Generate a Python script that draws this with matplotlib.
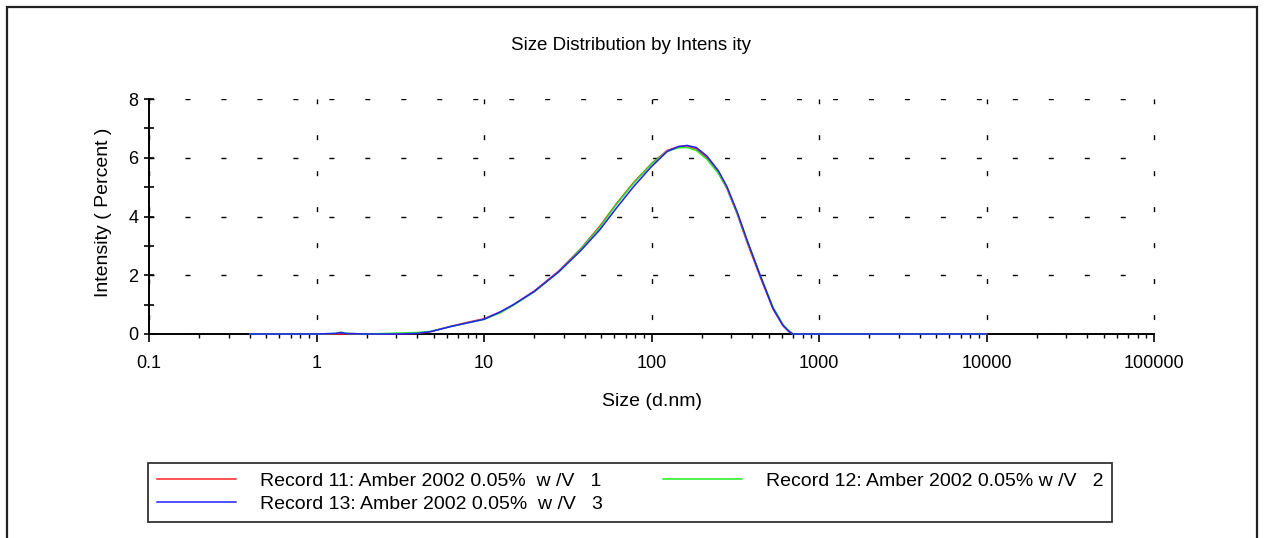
import matplotlib
matplotlib.use("Agg")
import matplotlib.pyplot as plt
import matplotlib.patches as patches
from matplotlib.ticker import FixedLocator, NullFormatter

plt.rcParams['font.family'] = ['Liberation Sans', 'DejaVu Sans']

# size bins (d.nm)
sizes = [0.4, 1.0, 1.3, 1.4, 1.5, 2.0, 3.0, 4.0, 4.8, 6.3, 8.0, 10, 12.5, 15, 20, 28,
         38, 49, 62, 78, 100, 124, 145, 163, 185, 214, 250, 282, 325, 372, 445, 531,
         609, 660, 700, 1000, 10000]

rec11 = [0, 0, 0, 0, 0, 0, 0, 0.02, 0.08, 0.26, 0.40, 0.52, 0.75, 1.0, 1.47, 2.15,
         2.92, 3.66, 4.45, 5.15, 5.80, 6.25, 6.38, 6.40, 6.30, 6.00, 5.50, 4.95, 4.08, 3.12, 1.95, 0.85,
         0.28, 0.08, 0, 0, 0]
rec12 = [0, 0, 0.02, 0.06, 0.02, 0, 0.03, 0.05, 0.09, 0.25, 0.38, 0.50, 0.72, 0.98, 1.44, 2.12,
         2.90, 3.62, 4.42, 5.12, 5.78, 6.22, 6.34, 6.35, 6.25, 5.95, 5.48, 4.98, 4.12, 3.18, 2.02, 0.92,
         0.32, 0.11, 0, 0, 0]
rec13 = [0, 0, 0.02, 0.05, 0.02, 0, 0, 0.02, 0.08, 0.25, 0.38, 0.50, 0.75, 1.0, 1.45, 2.12,
         2.85, 3.54, 4.30, 5.01, 5.70, 6.21, 6.38, 6.42, 6.35, 6.06, 5.57, 5.02, 4.15, 3.20, 2.00, 0.88,
         0.30, 0.10, 0, 0, 0]

labels = ["Record 11: Amber 2002 0.05%  w /V   1",
          "Record 13: Amber 2002 0.05%  w /V   3",
          "Record 12: Amber 2002 0.05% w /V   2"]
colors = ["#ff2020", "#2020ff", "#22ee22"]

W, H = 1265, 538
fig = plt.figure(figsize=(W / 100, H / 100), dpi=100)

# outer frame
fig.patches.append(patches.Rectangle((7 / W, -0.05), (1257 - 7) / W, 1.05 - 7 / H,
                                     transform=fig.transFigure, fill=False,
                                     edgecolor="#222222", linewidth=1.6))

ax = fig.add_axes([149 / W, 1 - 334 / H, (1154 - 149) / W, (334 - 99) / H])

l11, = ax.plot(sizes, rec11, color=colors[0], lw=1.1, zorder=3, clip_on=False)
l12, = ax.plot(sizes, rec12, color=colors[2], lw=1.1, zorder=3, clip_on=False)
l13, = ax.plot(sizes, rec13, color=colors[1], lw=1.1, zorder=3, clip_on=False)

ax.set_xscale("log")
ax.set_xlim(0.1, 100000)
ax.set_ylim(0, 8)

for s in ["top", "right"]:
    ax.spines[s].set_visible(False)
for s in ["left", "bottom"]:
    ax.spines[s].set_linewidth(1.4)

ax.set_xticks([0.1, 1, 10, 100, 1000, 10000, 100000])
ax.set_xticklabels(["0.1", "1", "10", "100", "1000", "10000", "100000"])
ax.xaxis.set_minor_formatter(NullFormatter())
ax.set_yticks([0, 2, 4, 6, 8])
ax.yaxis.set_minor_locator(FixedLocator([1, 3, 5, 7]))
ax.tick_params(axis="x", which="major", direction="out", length=6, width=1.2,
               labelsize=13, pad=9)
ax.tick_params(axis="x", which="minor", direction="out", length=3, width=1)
ax.tick_params(axis="y", which="both", direction="inout", length=7, width=1.2,
               labelsize=13, pad=4)

ax.xaxis.grid(True, which="major", color="black", linewidth=1.0,
              linestyle=(15.5, (3.6, 22.3)))
ax.yaxis.grid(True, which="major", color="black", linewidth=1.0,
              linestyle=(0, (3.6, 22.3)))
for gl in ax.get_xgridlines():
    gl.set_clip_on(False)

fig.text(631 / W, 1 - 45 / H, "Size Distribution by Intens ity", fontsize=13.5,
         ha="center", va="center")
ax.set_xlabel("Size (d.nm)", fontsize=14, labelpad=15)
ax.set_ylabel("Intensity ( Percent )", fontsize=14)
ax.yaxis.set_label_coords(-0.037, (334 - 212) / 235)

fig.legend([l11, l13, l12], labels, ncol=2, loc="center",
           bbox_to_anchor=(148 / W, 1 - 522 / H, (1112 - 148) / W, 59 / H),
           mode="expand", fontsize=14, frameon=True, fancybox=False,
           edgecolor="black", handlelength=4.1, handletextpad=1.2,
           borderaxespad=0, labelspacing=0.3, borderpad=0.45)
fig.legends[0].get_frame().set_linewidth(1.3)

fig.savefig("out.png", dpi=100)
